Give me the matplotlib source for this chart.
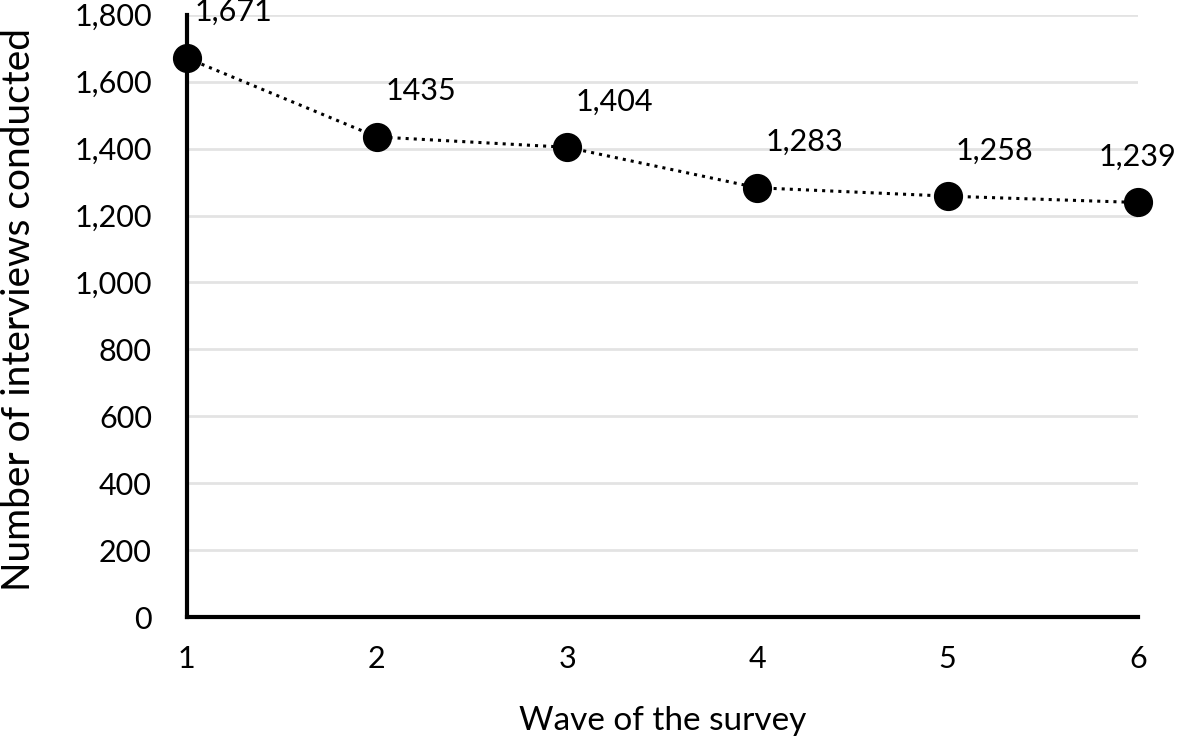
import matplotlib
matplotlib.use("Agg")
import matplotlib.pyplot as plt
from matplotlib.ticker import FuncFormatter

waves = [1, 2, 3, 4, 5, 6]
interviews = [1671, 1435, 1404, 1283, 1258, 1239]
point_labels = ["1,671", "1435", "1,404", "1,283", "1,258", "1,239"]
y_ticks = [0, 200, 400, 600, 800, 1000, 1200, 1400, 1600, 1800]

plt.rcParams['font.family'] = ['Lato', 'DejaVu Sans']

fig = plt.figure(figsize=(11.81, 7.39), dpi=100)
ax = fig.add_axes([0.158, 0.165, 0.8055, 0.815])

ax.plot(waves, interviews, color='black', linestyle=':', linewidth=2.2,
        marker='o', markersize=20, clip_on=False, zorder=3)

for i, (x, y) in enumerate(zip(waves, interviews)):
    if i == len(waves) - 1:
        # last label would run off the figure, so it sits centred over the point
        ax.annotate(point_labels[i], (x, y), xytext=(0, 33), textcoords='offset points',
                    ha='center', va='center', fontsize=22)
    else:
        ax.annotate(point_labels[i], (x, y), xytext=(6, 33), textcoords='offset points',
                    ha='left', va='center', fontsize=22)

ax.set_xlim(1, 6)
ax.set_ylim(0, 1800)
ax.set_xticks(waves)
ax.set_yticks(y_ticks)
ax.yaxis.set_major_formatter(FuncFormatter(lambda v, p: f"{int(v):,}"))
ax.tick_params(axis='both', length=0, labelsize=22)
ax.tick_params(axis='x', pad=20)
ax.tick_params(axis='y', pad=25)
ax.grid(axis='y', color='#e3e3e3', linewidth=2)
ax.set_axisbelow(True)

for s in ['top', 'right']:
    ax.spines[s].set_visible(False)
for s in ['left', 'bottom']:
    ax.spines[s].set_linewidth(3)

ax.set_xlabel('Wave of the survey', fontsize=24, labelpad=24)
ax.set_ylabel('Number of interviews conducted', fontsize=28)
ax.yaxis.set_label_coords(-0.157, 0.51)

fig.savefig('out.png', dpi=100)
